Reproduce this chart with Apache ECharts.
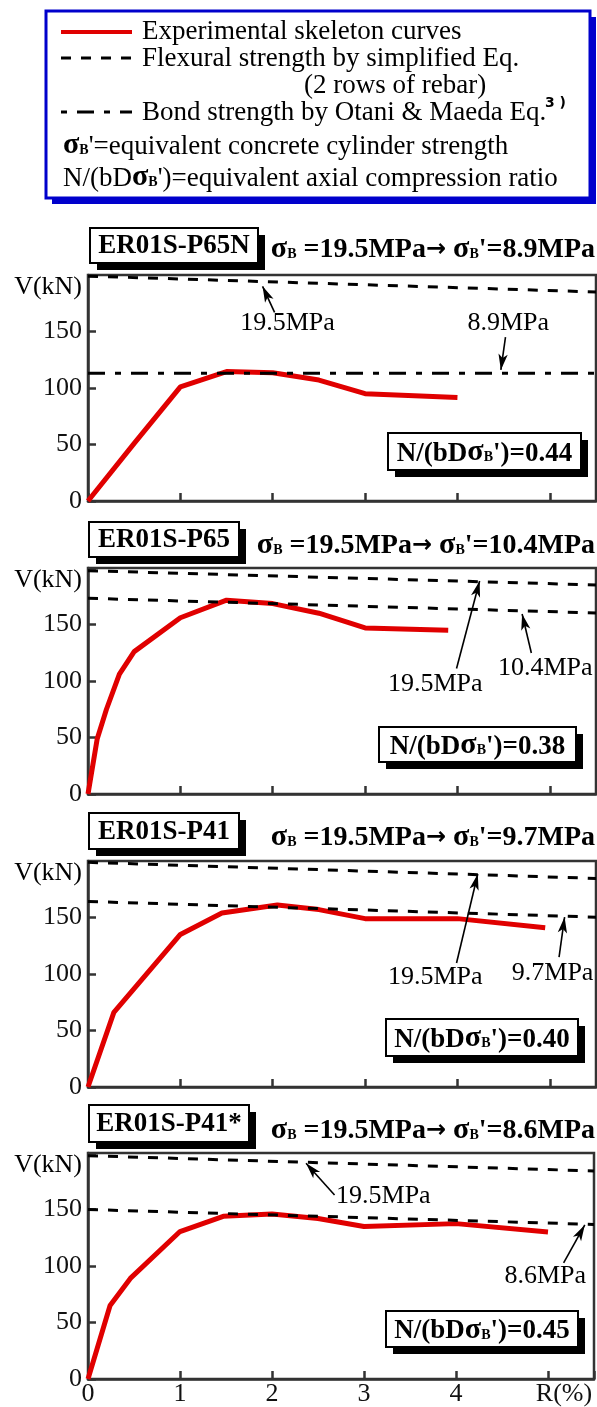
<!DOCTYPE html>
<html>
<head>
<meta charset="utf-8">
<script src="https://cdn.jsdelivr.net/npm/echarts@6/dist/echarts.min.js"></script>
<style>
html,body{margin:0;padding:0;background:#fff;}
#chart{width:597px;height:1407px;}
</style>
</head>
<body>
<div id="chart"></div>
<script>
// ---------------- data ----------------
const panelNames = ['ER01S-P65N', 'ER01S-P65', 'ER01S-P41', 'ER01S-P41*'];
const sigmaB = '19.5';
const sigmaBPrime = ['8.9', '10.4', '9.7', '8.6'];
const axialRatio = ['0.44', '0.38', '0.40', '0.45'];

const xTickLabels = ['0', '1', '2', '3', '4', 'R(%)'];
const yTickValues = [0, 50, 100, 150];
const yAxisName = 'V(kN)';

// experimental skeleton curves: drift R(%) and shear V(kN)
const rP65N = [0, 0.5, 1.0, 1.5, 2.0, 2.5, 3.0, 4.0];
const vP65N = [0, 51, 101, 114.5, 113.5, 107, 95, 91.5];
const rP65 = [0, 0.1, 0.2, 0.34, 0.5, 1.0, 1.5, 2.0, 2.5, 3.0, 3.9];
const vP65 = [0, 49, 75, 106, 126, 156, 171.5, 168.5, 160, 147, 145];
const rP41 = [0, 0.28, 1.0, 1.45, 2.05, 2.5, 3.0, 4.0, 4.95];
const vP41 = [0, 66, 135, 154, 161, 157, 149, 149, 141];
const rP41s = [0, 0.24, 0.46, 1.0, 1.47, 2.0, 2.5, 3.0, 4.0, 5.0];
const vP41s = [0, 65, 89, 130.5, 144, 146, 142, 135, 137.5, 130];

// flexural strength lines (value at R=0 and at R=5.5)
const lineR = [0, 5.5];
const flex195 = [[199, 185], [197.6, 185], [198.8, 184.6], [197.6, 184.1]];
const flexEq = [null, [173.2, 160.2], [164.2, 150.3], [150, 136.8]];
// bond strength (Otani & Maeda) - panel 1 only
const bondP65N = [113, 113];

// annotation labels [R, V, text] and arrows [tailR, tailV, headR, headV]
const annoLabels = [
  [[2.16, 157.5, '19.5MPa'], [4.55, 157.5, '8.9MPa']],
  [[3.76, 97.3, '19.5MPa'], [4.95, 111, '10.4MPa']],
  [[3.76, 97.3, '19.5MPa'], [5.03, 100.9, '9.7MPa']],
  [[3.21, 162, '19.5MPa'], [4.97, 91, '8.6MPa']]
];
const annoArrows = [
  [[2.02, 167, 1.89, 190], [4.52, 145, 4.47, 116]],
  [[3.99, 111, 4.24, 188.5], [4.80, 124.8, 4.70, 159.3]],
  [[3.99, 109.7, 4.22, 188.5], [5.10, 115, 5.16, 150.4]],
  [[2.68, 162.8, 2.37, 191], [5.17, 102.7, 5.40, 136.3]]
];

const legendTexts = [
  'Experimental skeleton curves',
  'Flexural strength by simplified Eq.',
  '(2 rows of rebar)',
  'Bond strength by Otani & Maeda Eq.',
  '=equivalent concrete cylinder strength',
  '=equivalent axial compression ratio'
];

// ---------------- layout / style ----------------
const SERIF = '"Liberation Serif", "Times New Roman", serif';
const RED = '#e00000';
const AX = '#333';
const FS = 26;
const LFS = 27;
const tops = [275, 568, 861, 1153];
const GL = 88, GW = 508, GH = 226;

const curves = [[rP65N, vP65N], [rP65, vP65], [rP41, vP41], [rP41s, vP41s]];
const zip = (a, b) => a.map((x, i) => [x, b[i]]);

const grids = [], xAxes = [], yAxes = [], series = [];
for (let i = 0; i < 4; i++) {
  grids.push({left: GL, top: tops[i], width: GW, height: GH, show: true,
    borderColor: AX, borderWidth: 2.5, backgroundColor: 'transparent'});
  xAxes.push({
    type: 'value', gridIndex: i, min: 0, max: 5.5, interval: 1,
    axisLine: {show: true, onZero: false, lineStyle: {color: AX, width: 2.5}},
    axisTick: {show: true, inside: true, length: 8, lineStyle: {color: AX, width: 2.5}},
    splitLine: {show: false},
    axisLabel: {show: i === 3, fontFamily: SERIF, fontSize: FS, color: '#111', margin: 2,
      formatter: v => {
        const k = Math.round(v);
        if (Math.abs(v - k) > 1e-6 || k > 5) return '';
        return k === 5 ? '{r|' + xTickLabels[k] + '}' : xTickLabels[k];
      },
      rich: {r: {fontFamily: SERIF, fontSize: FS, color: '#111', padding: [0, 0, 0, 32]}}
    }
  });
  yAxes.push({
    type: 'value', gridIndex: i, min: 0, max: 200, interval: 50,
    axisLine: {show: true, onZero: false, lineStyle: {color: AX, width: 2.5}},
    axisTick: {show: true, inside: true, length: 8, lineStyle: {color: AX, width: 2.5}},
    splitLine: {show: false},
    axisLabel: {fontFamily: SERIF, fontSize: FS, color: '#111', margin: 6,
      formatter: v => (yTickValues.indexOf(v) >= 0 ? String(v) : '')}
  });

  // experimental curve
  series.push({type: 'line', xAxisIndex: i, yAxisIndex: i, data: zip(curves[i][0], curves[i][1]),
    symbol: 'none', lineStyle: {color: RED, width: 5}, z: 2, silent: true});

  // arrows (attached to 19.5MPa line series)
  const arrowData = annoArrows[i].map(a => [
    {coord: [a[0], a[1]], symbol: 'none'},
    {coord: [a[2], a[3]], symbol: 'arrow', symbolSize: [7, 16]}
  ]);
  series.push({type: 'line', xAxisIndex: i, yAxisIndex: i, data: zip(lineR, flex195[i]),
    symbol: 'none', lineStyle: {color: '#000', width: 3, type: [10, 10]}, z: 3, silent: true,
    markLine: {silent: true, animation: false, symbol: ['none', 'arrow'], label: {show: false},
      lineStyle: {color: '#000', width: 1.6, type: 'solid'}, data: arrowData}
  });
  if (flexEq[i]) {
    series.push({type: 'line', xAxisIndex: i, yAxisIndex: i, data: zip(lineR, flexEq[i]),
      symbol: 'none', lineStyle: {color: '#000', width: 3, type: [10, 10]}, z: 3, silent: true});
  }
  if (i === 0) {
    series.push({type: 'line', xAxisIndex: i, yAxisIndex: i, data: zip(lineR, bondP65N),
      symbol: 'none', lineStyle: {color: '#000', width: 3, type: [17, 10, 6, 10]}, z: 3, silent: true});
  }
  // annotation labels
  series.push({type: 'scatter', xAxisIndex: i, yAxisIndex: i, symbolSize: 1,
    itemStyle: {color: 'rgba(0,0,0,0)', opacity: 1}, z: 4, silent: true,
    data: annoLabels[i].map(a => ({value: [a[0], a[1]], name: a[2]})),
    label: {show: true, position: 'inside', formatter: p => p.name, opacity: 1,
      textBorderWidth: 0, fontFamily: SERIF, fontSize: FS, color: '#000'}
  });
}

// ---------------- graphics (legend box, title boxes, ratio boxes) ----------------
const g = [];
function shadowBox(x, y, w, h, off, color, lw) {
  g.push({type: 'rect', shape: {x: x + off, y: y + off, width: w, height: h}, style: {fill: color}, z: 10});
  g.push({type: 'rect', shape: {x: x, y: y, width: w, height: h}, style: {fill: '#fff', stroke: color, lineWidth: lw}, z: 11});
}
function txt(x, y, text, opts) {
  g.push(Object.assign({type: 'text', x: x, y: y, z: 12, style: Object.assign({
    text: text, fill: '#000', font: LFS + 'px ' + SERIF,
    textAlign: 'left', textVerticalAlign: 'middle', align: 'left', verticalAlign: 'middle'
  }, opts || {})}));
}
// legend
shadowBox(46, 11, 544, 187, 6, '#0000cc', 3);
g.push({type: 'line', shape: {x1: 61, y1: 32, x2: 132, y2: 32}, style: {stroke: RED, lineWidth: 4}, z: 12});
g.push({type: 'line', shape: {x1: 61, y1: 58, x2: 132, y2: 58}, style: {stroke: '#000', lineWidth: 3, lineDash: [10, 10]}, z: 12});
g.push({type: 'line', shape: {x1: 61, y1: 112, x2: 132, y2: 112}, style: {stroke: '#000', lineWidth: 3, lineDash: [6, 10, 17, 10]}, z: 12});
txt(142, 32, legendTexts[0]);
txt(142, 59, legendTexts[1]);
txt(304, 86, legendTexts[2]);
txt(142, 113, legendTexts[3]);
txt(545, 103, '3 )', {font: 'bold 14px "DejaVu Sans", sans-serif'});
const sigRich = {
  s: {fontSize: 30, fontFamily: SERIF, fontWeight: 'bold', verticalAlign: 'bottom', fill: '#000'},
  b: {fontSize: 14, fontFamily: SERIF, fontWeight: 'bold', verticalAlign: 'bottom', fill: '#000', padding: [0, 0, 3, 0]},
  t: {fontSize: LFS, fontFamily: SERIF, verticalAlign: 'bottom', fill: '#000'},
  tb: {fontSize: 28, fontFamily: SERIF, fontWeight: 'bold', verticalAlign: 'bottom', fill: '#000'},
  nb: {fontSize: 27, fontFamily: SERIF, fontWeight: 'bold', verticalAlign: 'bottom', fill: '#000'},
  ar: {fontSize: 24, fontFamily: '"DejaVu Sans", sans-serif', fontWeight: 'bold', verticalAlign: 'bottom', fill: '#000', padding: [0, 0, 2, 0]}
};
txt(63, 145, '{s|σ}{b|B}{t|\'' + legendTexts[4] + '}', {rich: sigRich});
txt(63, 177, '{t|N/(bD}{s|σ}{b|B}{t|\')' + legendTexts[5] + '}', {rich: sigRich});

// panel headers
const titleBoxes = [[90, 228, 168, 35], [89, 522, 150, 35], [89, 813, 150, 36], [89, 1105, 160, 37]];
const headerY = [249, 545, 837, 1130];
const ratioBoxes = [[388, 433, 193, 37], [379, 727, 197, 35], [386, 1019, 192, 37], [386, 1311, 192, 36]];
for (let i = 0; i < 4; i++) {
  const tb = titleBoxes[i];
  shadowBox(tb[0], tb[1], tb[2], tb[3], 7, '#000', 2);
  txt(tb[0] + tb[2] / 2, tb[1] + tb[3] / 2 + 1, panelNames[i],
    {font: 'bold 27px ' + SERIF, textAlign: 'center', align: 'center'});
  txt(595, headerY[i], '{s|σ}{b|B}{tb| =' + sigmaB + 'MPa}{ar|→}{tb| }{s|σ}{b|B}{tb|\'=' + sigmaBPrime[i] + 'MPa}',
    {rich: sigRich, textAlign: 'right', align: 'right'});
  const rb = ratioBoxes[i];
  shadowBox(rb[0], rb[1], rb[2], rb[3], 7, '#000', 2);
  txt(rb[0] + rb[2] / 2, rb[1] + rb[3] / 2 + 1, '{nb|N/(bD}{s|σ}{b|B}{nb|\')=' + axialRatio[i] + '}',
    {rich: sigRich, textAlign: 'center', align: 'center'});
  txt(82, tops[i] + 12, yAxisName, {font: FS + 'px ' + SERIF, textAlign: 'right', align: 'right'});
}

const chart = echarts.init(document.getElementById('chart'), null, {renderer: 'canvas'});
chart.setOption({
  animation: false,
  backgroundColor: '#fff',
  grid: grids, xAxis: xAxes, yAxis: yAxes, series: series,
  graphic: {elements: g}
});
</script>
</body>
</html>
